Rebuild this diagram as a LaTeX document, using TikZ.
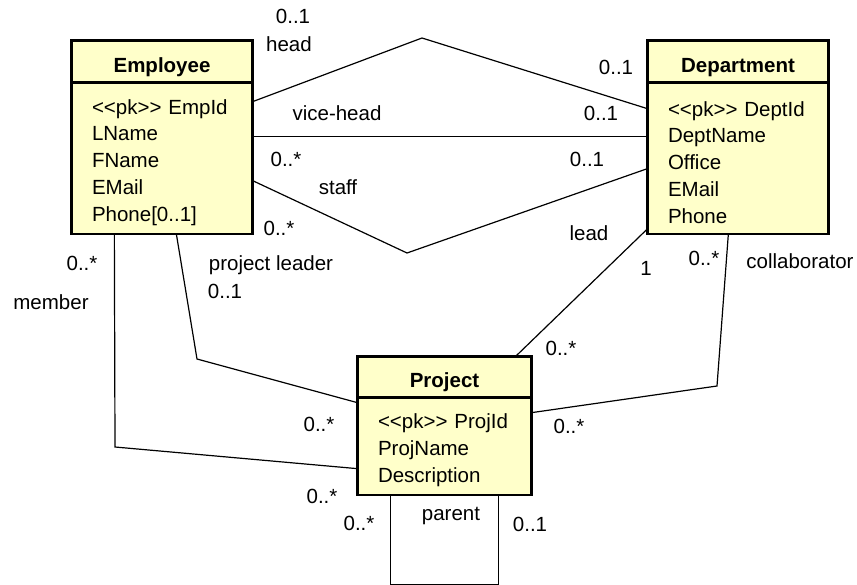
\documentclass[tikz,border=0pt]{standalone}
\usepackage{fontspec}
\setmainfont{Liberation Sans}
\usetikzlibrary{positioning,calc}
\definecolor{clsfill}{RGB}{255,255,202}
\newcommand{\pkmark}{<\kern0pt<pk>\kern0pt>}
\newcommand{\firstrow}{\rule{0pt}{23pt}}

\begin{document}
\begin{tikzpicture}[
    x=1pt, y=-1pt,
    font=\fontsize{20.5}{26.7}\selectfont,
    clshead/.style={draw, line width=1.3pt, fill=clsfill, minimum width=180, minimum height=41, inner sep=0pt, text height=21.5pt, text depth=0pt, font=\fontsize{20.5}{26.7}\selectfont\bfseries},
    clsattr/.style={draw, line width=1.3pt, fill=clsfill, text width=140, minimum height=150, inner xsep=20pt, inner ysep=0pt, align=left},
    clsframe/.style={draw, line width=2.6pt},
    assoc/.style={line width=1.2pt},
    lbl/.style={inner sep=0pt, text height=0.72em, text depth=0pt}
]
\useasboundingbox (0,0) rectangle (857,585);

\node[clshead] (emp) at (162,61.5) {Employee};
\node[clsattr, below=0pt of emp] (empattr) {\firstrow\pkmark{} EmpId\\LName\\FName\\EMail\\Phone[0..1]};

\node[clshead] (dept) at (738,61.5) {Department};
\node[clsattr, below=0pt of dept] (deptattr) {\firstrow\pkmark{} DeptId\\DeptName\\Office\\EMail\\Phone};

\node[clshead, minimum width=173, minimum height=40] (proj) at (444.5,377) {Project};
\node[clsattr, below=0pt of proj, text width=133, minimum height=96] (projattr) {\firstrow\pkmark{} ProjId\\ProjName\\Description};

\coordinate (headtop) at (422,38);
\coordinate (staffbot) at (407,253);
\coordinate (membend) at (115,447);
\coordinate (leadbend) at (197,359);
\coordinate (collbend) at (717,386);

\draw[assoc] ($(empattr.north east)+(0,19)$) -- (headtop) -- ($(deptattr.north west)+(0,26)$);
\draw[assoc] ($(empattr.north east)+(0,54)$) -- ($(deptattr.north west)+(0,54)$);
\draw[assoc] ($(empattr.north east)+(0,98)$) -- (staffbot) -- ($(deptattr.north west)+(0,86)$);
\draw[assoc] ($(empattr.south west)+(43,0)$) -- (membend) -- ($(projattr.north west)+(0,71)$);
\draw[assoc] ($(empattr.south west)+(105,0)$) -- (leadbend) -- ($(projattr.north west)+(0,5)$);
\draw[assoc] ($(deptattr.south west)+(0,-5)$) -- ($(proj.north east)+(-16,0)$);
\draw[assoc] ($(deptattr.south west)+(81,0)$) -- (collbend) -- ($(projattr.north east)+(0,15)$);
\draw[assoc] ($(projattr.south west)+(33,0)$) -- ++(0,90) -| ($(projattr.south east)+(-33,0)$);

\draw[clsframe] (emp.north west) rectangle (empattr.south east);
\draw[clsframe] (dept.north west) rectangle (deptattr.south east);
\draw[clsframe] (proj.north west) rectangle (projattr.south east);

\node[lbl] (headm1) at (293,20) {0..1};
\node[lbl] (headrole) at (289,48) {head};
\node[lbl] (headm2) at (616,71) {0..1};
\node[lbl] (vicerole) at (337,117) {vice-head};
\node[lbl] (vicem) at (601,117) {0..1};
\node[lbl] (staffm1) at (286,163) {0..*};
\node[lbl] (staffrole) at (338,191) {staff};
\node[lbl] (staffm2) at (587,163) {0..1};
\node[lbl] (leaderm1) at (279,232) {0..*};
\node[lbl] (leadrole) at (589,237) {lead};
\node[lbl] (memberm1) at (82,267) {0..*};
\node[lbl] (memberrole) at (51,306) {member};
\node[lbl] (leaderrole) at (271,267) {project leader};
\node[lbl] (leaderm2) at (225,295) {0..1};
\node[lbl] (leadm1) at (646,272) {1};
\node[lbl] (collm1) at (704,262) {0..*};
\node[lbl] (collrole) at (800,265) {collaborator};
\node[lbl] (leadm2) at (561,352) {0..*};
\node[lbl] (collm2) at (569,430) {0..*};
\node[lbl] (memberm2) at (319,428) {0..*};
\node[lbl] (parentm1) at (322,500) {0..*};
\node[lbl] (parentm2) at (359,527) {0..*};
\node[lbl] (parentrole) at (451,517) {parent};
\node[lbl] (parentm3) at (530,528) {0..1};
\end{tikzpicture}
\end{document}
